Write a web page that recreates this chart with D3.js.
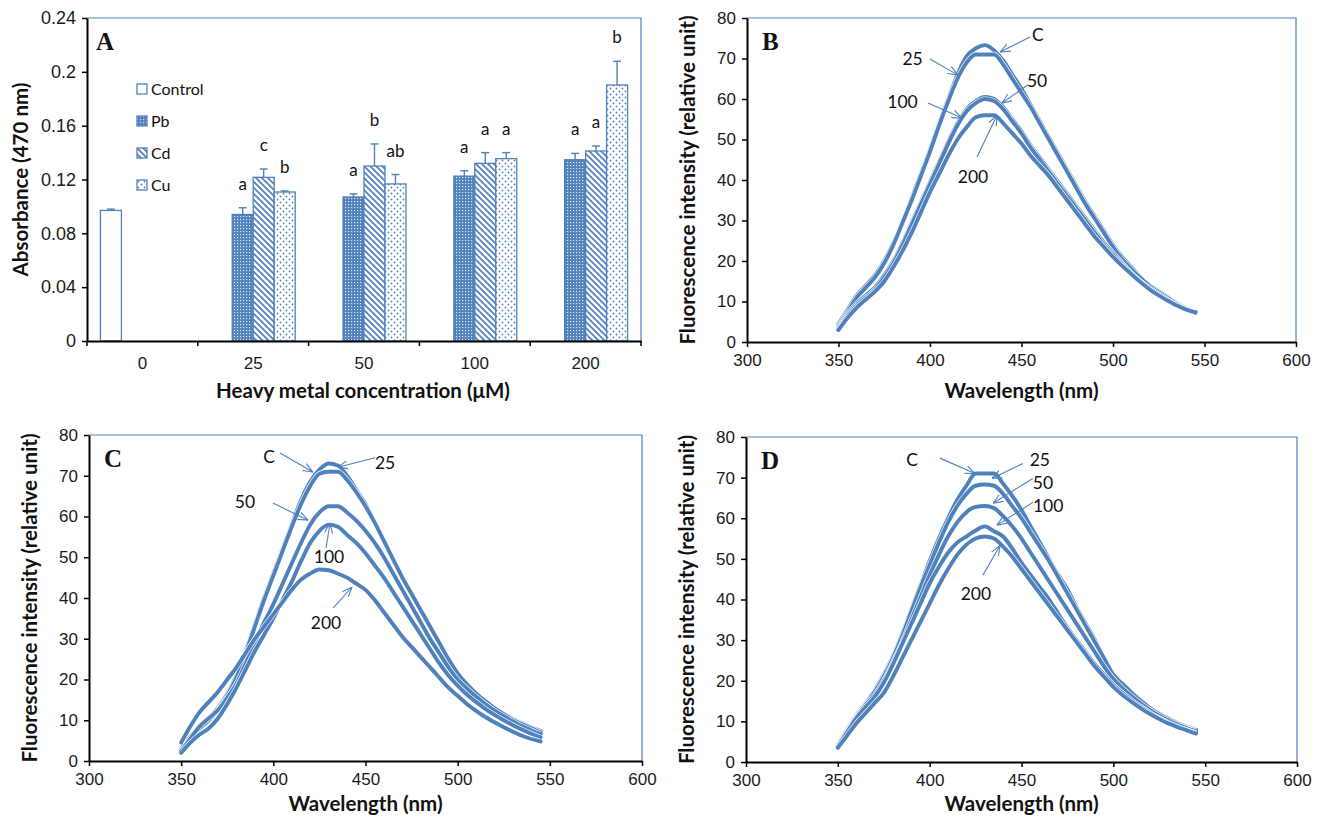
<!DOCTYPE html>
<html>
<head>
<meta charset="utf-8">
<script src="https://cdn.jsdelivr.net/npm/d3@7"></script>
<style>
  body { margin: 0; background: #fff; }
  svg { display: block; font-family: Lato, "Open Sans", sans-serif; }
  .tick text { font-size: 17px; fill: #1a1a1a; }
  .axis-title { font-size: 20.5px; font-weight: bold; fill: #111; }
  .panel-label { font-family: "Liberation Serif", serif; font-weight: bold; font-size: 25px; fill: #111; }
  .note { font-size: 17.5px; fill: #111; }
</style>
</head>
<body>
<svg id="chart" width="1320" height="819"></svg>
<script>
// ---- Panel A data (absorbance at 470 nm) ----
var concentrations = ["0", "25", "50", "100", "200"];
var metals = ["Control", "Pb", "Cd", "Cu"];
var controlMean = [0.097, null, null, null, null];
var controlErr  = [0.001, null, null, null, null];
var pbMean = [null, 0.094, 0.107, 0.1225, 0.1347];
var pbErr  = [null, 0.005, 0.0023, 0.004, 0.0047];
var cdMean = [null, 0.1216, 0.130, 0.132, 0.1412];
var cdErr  = [null, 0.0062, 0.0164, 0.008, 0.0037];
var cuMean = [null, 0.1107, 0.1167, 0.1355, 0.1902];
var cuErr  = [null, 0.0008, 0.007, 0.0045, 0.0176];
var pbLetters = [null, "a", "a", "a", "a"];
var cdLetters = [null, "c", "b", "a", "a"];
var cuLetters = [null, "b", "ab", "a", "b"];
var absTicks = [0, 0.04, 0.08, 0.12, 0.16, 0.2, 0.24];

// ---- Panels B-D data (fluorescence spectra) ----
var wavelengths = [350, 355, 360, 365, 370, 375, 380, 385, 390, 395,
                   400, 405, 410, 415, 420, 425, 430, 435, 440, 445,
                   450, 455, 460, 465, 470, 475, 480, 485, 490, 495,
                   500, 505, 510, 515, 520, 525, 530, 535, 540, 545];
var waveTicks = [300, 350, 400, 450, 500, 550, 600];
var fluoTicks = [0, 10, 20, 30, 40, 50, 60, 70, 80];

var bControl = [4.5, 8, 11.5, 14, 16.5, 20, 24.5, 29.5, 35.5, 41.5, 47.5, 54, 60, 66, 70.5, 72.5, 73.3, 72, 69.5, 66, 62.5, 58.5, 54.5, 50.5, 46.5, 42.5, 38.5, 34.5, 31, 27.5, 24, 21, 18.5, 16, 14, 12.5, 11, 9.5, 8.3, 7.5];
var b25 = [4, 7.5, 11, 13.5, 16, 19.5, 24, 29.5, 35, 41, 47, 53.5, 59.5, 65, 69, 71, 71, 71, 68.5, 65, 61.5, 58, 54, 50, 46, 42, 38, 34, 30.5, 27, 23.5, 20.5, 18, 15.8, 13.8, 12.2, 10.8, 9.4, 8.2, 7.4];
var b50 = [3.5, 7, 9.5, 11.5, 13.5, 16.5, 20, 24.5, 29.5, 34.5, 39.5, 44.5, 49.5, 54, 57.5, 59.5, 60.5, 60, 58, 55, 52, 48.5, 45.5, 42.5, 39.5, 36.5, 33.5, 30.5, 27.5, 24.5, 22, 19.5, 17, 15, 13.3, 11.8, 10.4, 9.2, 8.2, 7.4];
var b100 = [3, 6.5, 9, 11, 13, 16, 19.5, 24, 29, 34, 39, 44, 49, 53.5, 57, 59, 60, 59.5, 57.5, 54.5, 51.5, 48, 45, 42, 39, 36, 33, 30, 27, 24, 21.5, 19, 16.8, 14.8, 13, 11.5, 10.2, 9, 8, 7.2];
var b200 = [3, 6, 8.5, 10.5, 12.5, 15, 18.5, 22.5, 27, 32, 37, 41.5, 46, 50, 53, 55.5, 56, 56, 54, 51.5, 49, 46, 43.5, 41, 38, 35, 32, 29, 26, 23.5, 21, 18.8, 16.8, 14.8, 13, 11.5, 10.2, 9, 8, 7.3];

var cControl = [3, 6, 8.5, 10.5, 13, 16.5, 21, 27, 33.5, 40, 46, 52, 58, 64, 68.5, 71.5, 73, 72.5, 70, 66.5, 63, 58.5, 54, 49.5, 45, 41, 37, 33, 29, 24.5, 20.5, 18.3, 16.3, 14.5, 13, 11.6, 10.3, 9.2, 8.2, 7.4];
var c25 = [2.5, 5.5, 8, 10, 12.5, 16, 20.5, 26.5, 33, 39.5, 45.5, 51.5, 57.5, 63, 67.5, 70.5, 71, 71, 69, 66, 62.5, 58.5, 54, 49.5, 45, 41, 37, 33, 29, 25, 21.5, 18.8, 16.6, 14.7, 13, 11.5, 10.1, 9, 8, 7];
var c50 = [2.5, 5.5, 8.5, 10.5, 12.5, 15.5, 19, 24, 29, 34, 38.5, 43.5, 48.5, 53.5, 58, 61, 62.5, 62.5, 61, 59, 56.5, 53.5, 50, 46, 42, 38, 34, 30, 26.5, 23, 20, 17.8, 15.8, 14, 12.4, 11, 9.7, 8.5, 7.5, 6.6];
var c100 = [2, 4.5, 6.5, 8, 10.5, 14, 18, 22.5, 27, 31, 35, 39.5, 44, 49, 53.5, 56.5, 58, 57.5, 55.5, 53.5, 51, 48, 45, 41.5, 38, 34.5, 31, 27.5, 24, 21, 18.5, 16.3, 14.5, 12.8, 11.3, 10, 8.8, 7.7, 6.7, 5.8];
var c200 = [4.5, 8.5, 12, 14.5, 17, 20, 23, 26.5, 30, 33, 36, 39, 42, 44.5, 46, 47, 46.8, 46, 45, 43.5, 42, 39.5, 36.5, 33.5, 30.5, 28, 25.5, 23, 20.5, 18, 16, 14, 12.3, 10.8, 9.5, 8.3, 7.2, 6.2, 5.4, 4.8];

var dControl = [4.3, 8, 11.5, 14.5, 17.5, 21.5, 26, 31.5, 37.5, 43.5, 49.5, 55, 60, 64.5, 68, 71, 71, 71, 68.5, 65.5, 62, 58, 54, 50, 46, 42.5, 38, 34, 30, 25.5, 21.5, 19.3, 17.2, 15.2, 13.4, 12, 10.7, 9.6, 8.7, 8];
var d25 = [4, 7.8, 11.2, 14.2, 17.2, 21, 25.5, 31, 37, 43, 48.5, 54, 59, 63, 66, 68, 68.3, 68, 66, 63, 60, 56.5, 53, 49.5, 45.5, 41.5, 37.5, 33.5, 29.5, 25.5, 21.5, 19.2, 17, 15, 13.3, 11.8, 10.5, 9.4, 8.5, 7.8];
var d50 = [4, 7.5, 11, 14, 16.5, 20, 24.5, 29.5, 35, 40.5, 46, 51, 55.5, 59, 61.5, 62.8, 63, 62.5, 60.5, 58, 55, 51.5, 48, 44.5, 41, 37.5, 34, 30.5, 27, 23.5, 20.5, 18.2, 16.2, 14.4, 12.8, 11.4, 10.2, 9.2, 8.3, 7.6];
var d100 = [3.8, 7.3, 10.8, 13.5, 16, 19.5, 24, 29, 34, 39, 44, 48, 51.5, 54, 55.5, 57, 58, 56.8, 55.5, 52.5, 49, 46, 43, 40, 36.5, 33, 30, 27, 24, 21.5, 19, 17, 15.2, 13.6, 12.1, 10.8, 9.7, 8.7, 7.9, 7.2];
var d200 = [3.5, 6.5, 9.5, 12, 14.5, 17, 21, 25.5, 30, 34.5, 39, 43.5, 47.5, 51, 53.5, 55, 55.5, 55, 53, 50.5, 47.5, 44.5, 41.5, 38.5, 35.5, 32.5, 29.5, 26.5, 23.5, 21, 18.5, 16.5, 14.8, 13.2, 11.8, 10.6, 9.5, 8.6, 7.8, 7];

// curve labels: text centre, then the arrow from (x1,y1) to tip (x2,y2), all in data units
var bNotes = [
  {label: "C",   tx: 459,   ty: 75.8, x1: 454.6, y1: 75.3, x2: 438.3, y2: 71.6},
  {label: "25",  tx: 390.5, ty: 70,   x1: 400,   y1: 69.9, x2: 415.3, y2: 65.9},
  {label: "50",  tx: 458.5, ty: 64.4, x1: 453.6, y1: 63.5, x2: 439.3, y2: 59},
  {label: "100", tx: 385,   ty: 59.3, x1: 398.9, y1: 59,   x2: 417.5, y2: 55.3},
  {label: "200", tx: 423.5, ty: 40.7, x1: 425.7, y1: 45.7, x2: 436.6, y2: 56}
];
var cNotes = [
  {label: "C",   tx: 397.7, ty: 74.6, x1: 403.6, y1: 75.6, x2: 421.5, y2: 70.9},
  {label: "25",  tx: 460.6, ty: 73.1, x1: 455.2, y1: 74.4, x2: 435,   y2: 72.1},
  {label: "50",  tx: 384.6, ty: 63.6, x1: 399.8, y1: 63.3, x2: 418.8, y2: 59.1},
  {label: "100", tx: 430.2, ty: 50,   x1: 428.6, y1: 52.3, x2: 430.8, y2: 58.4},
  {label: "200", tx: 428.6, ty: 33.9, x1: 432.4, y1: 37.5, x2: 442.7, y2: 42.7}
];
var dNotes = [
  {label: "C",   tx: 390.4, ty: 74.3, x1: 405.6, y1: 74.8, x2: 424.7, y2: 71},
  {label: "25",  tx: 460,   ty: 74.3, x1: 450.8, y1: 73.5, x2: 433.9, y2: 69.8},
  {label: "50",  tx: 461.7, ty: 68.6, x1: 456.2, y1: 69.8, x2: 434.5, y2: 63.7},
  {label: "100", tx: 464.5, ty: 63,   x1: 456.2, y1: 63.9, x2: 436.6, y2: 58.3},
  {label: "200", tx: 425.2, ty: 41.5, x1: 429,   y1: 46,   x2: 438.3, y2: 53.3}
];

var blue = "#4f81bd";
var svg = d3.select("#chart");
var defs = svg.append("defs");

// fill patterns for the bars
var pPb = defs.append("pattern").attr("id", "pat-pb").attr("patternUnits", "userSpaceOnUse")
    .attr("width", 3).attr("height", 3);
pPb.append("rect").attr("width", 3).attr("height", 3).attr("fill", blue);
pPb.append("rect").attr("width", 1.2).attr("height", 1.2).attr("fill", "#dfe8f4");

var pCd = defs.append("pattern").attr("id", "pat-cd").attr("patternUnits", "userSpaceOnUse")
    .attr("width", 6).attr("height", 6);
pCd.append("rect").attr("width", 6).attr("height", 6).attr("fill", "#fff");
pCd.append("path").attr("d", "M0,0L6,6M-1,5L1,7M5,-1L7,1")
    .attr("stroke", blue).attr("stroke-width", 1.7);

var pCu = defs.append("pattern").attr("id", "pat-cu").attr("patternUnits", "userSpaceOnUse")
    .attr("width", 6).attr("height", 6);
pCu.append("rect").attr("width", 6).attr("height", 6).attr("fill", "#fff");
pCu.append("circle").attr("cx", 1.5).attr("cy", 1.5).attr("r", 0.9).attr("fill", blue);
pCu.append("circle").attr("cx", 4.5).attr("cy", 4.5).attr("r", 0.9).attr("fill", blue);

var fills = {Control: "#fff", Pb: "url(#pat-pb)", Cd: "url(#pat-cd)", Cu: "url(#pat-cu)"};

defs.append("marker").attr("id", "arrow")
    .attr("viewBox", "0 0 10 10").attr("refX", 10).attr("refY", 5)
    .attr("markerWidth", 10).attr("markerHeight", 10)
    .attr("markerUnits", "userSpaceOnUse").attr("orient", "auto")
  .append("path").attr("d", "M0,1L10,5L0,9")
    .attr("fill", "none").attr("stroke", blue).attr("stroke-width", 1.1);

function styleAxis(g) {
  g.select(".domain").attr("stroke", "#000").attr("stroke-width", 2);
  g.selectAll(".tick line").attr("stroke", "#000").attr("stroke-width", 1.5);
}

// ================= Panel A =================
var aBox = {left: 87, top: 18, right: 641, bottom: 341};
var x0 = d3.scaleBand().domain(concentrations).range([aBox.left, aBox.right]);
var x1 = d3.scaleBand().domain(metals).range([0, x0.bandwidth()]).paddingOuter(0.64);
var yA = d3.scaleLinear().domain([0, 0.24]).range([aBox.bottom, aBox.top]);

var gA = svg.append("g");
gA.append("path")
    .attr("d", "M" + aBox.left + "," + aBox.top + "H" + aBox.right + "V" + aBox.bottom)
    .attr("fill", "none").attr("stroke", blue).attr("stroke-width", 1.2);

var barSeries = [
  {name: "Control", mean: controlMean, err: controlErr, letters: null},
  {name: "Pb", mean: pbMean, err: pbErr, letters: pbLetters},
  {name: "Cd", mean: cdMean, err: cdErr, letters: cdLetters},
  {name: "Cu", mean: cuMean, err: cuErr, letters: cuLetters}
];

barSeries.forEach(function(s) {
  var rows = concentrations.map(function(c, i) {
    return {conc: c, v: s.mean[i], e: s.err[i], l: s.letters ? s.letters[i] : null};
  }).filter(function(d) { return d.v != null; });

  var grp = gA.append("g");
  grp.selectAll("rect").data(rows).join("rect")
      .attr("x", function(d) { return x0(d.conc) + x1(s.name); })
      .attr("y", function(d) { return yA(d.v); })
      .attr("width", x1.bandwidth())
      .attr("height", function(d) { return yA(0) - yA(d.v); })
      .attr("fill", fills[s.name])
      .attr("stroke", blue).attr("stroke-width", 1.3);

  // upper error bars
  var cx = function(d) { return x0(d.conc) + x1(s.name) + x1.bandwidth() / 2; };
  grp.selectAll("line.err").data(rows).join("line").attr("class", "err")
      .attr("x1", cx).attr("x2", cx)
      .attr("y1", function(d) { return yA(d.v); })
      .attr("y2", function(d) { return yA(d.v + d.e); })
      .attr("stroke", blue).attr("stroke-width", 1.4);
  grp.selectAll("line.cap").data(rows).join("line").attr("class", "cap")
      .attr("x1", function(d) { return cx(d) - 4; })
      .attr("x2", function(d) { return cx(d) + 4; })
      .attr("y1", function(d) { return yA(d.v + d.e); })
      .attr("y2", function(d) { return yA(d.v + d.e); })
      .attr("stroke", blue).attr("stroke-width", 1.4);

  grp.selectAll("text").data(rows.filter(function(d) { return d.l; })).join("text")
      .attr("x", cx)
      .attr("y", function(d) { return yA(d.v + d.e) - 18; })
      .attr("text-anchor", "middle")
      .style("font-size", "17px").style("fill", "#111")
      .text(function(d) { return d.l; });
});

// y axis
var yAxisA = gA.append("g")
    .attr("transform", "translate(" + aBox.left + ",0)")
    .call(d3.axisLeft(yA).tickValues(absTicks).tickSize(5).tickSizeOuter(0).tickPadding(6)
      .tickFormat(function(d) { return d === 0 ? "0" : d3.format(".2~f")(d); }));
styleAxis(yAxisA);
yAxisA.selectAll(".tick text").style("font-size", "18px");

// x axis with ticks on category boundaries
var xAxisA = gA.append("g")
    .attr("transform", "translate(0," + aBox.bottom + ")")
    .call(d3.axisBottom(x0).tickSize(0).tickSizeOuter(0).tickPadding(16));
styleAxis(xAxisA);
var bounds = concentrations.map(function(c) { return x0(c); }).concat([aBox.right]);
gA.selectAll("line.bound").data(bounds).join("line").attr("class", "bound")
    .attr("x1", function(d) { return d; }).attr("x2", function(d) { return d; })
    .attr("y1", aBox.bottom).attr("y2", aBox.bottom + 5)
    .attr("stroke", "#000").attr("stroke-width", 1.5);

// legend
var legend = gA.append("g").attr("transform", "translate(137,84)");
metals.forEach(function(m, i) {
  var row = legend.append("g").attr("transform", "translate(0," + (i * 32) + ")");
  row.append("rect").attr("width", 10).attr("height", 10)
      .attr("fill", fills[m]).attr("stroke", blue).attr("stroke-width", 1.3);
  row.append("text").attr("x", 14).attr("y", 10.5)
      .style("font-size", "16px").style("fill", "#111").text(m);
});

gA.append("text").attr("class", "panel-label").attr("x", 96).attr("y", 50).text("A");
gA.append("text").attr("class", "axis-title")
    .attr("transform", "translate(28," + ((aBox.top + aBox.bottom) / 2) + ") rotate(-90)")
    .attr("text-anchor", "middle").text("Absorbance (470 nm)");
gA.append("text").attr("class", "axis-title")
    .attr("x", (aBox.left + aBox.right) / 2 - 1).attr("y", 398)
    .attr("text-anchor", "middle").text("Heavy metal concentration (\u03bcM)");

// ================= Panels B-D =================
function drawSpectra(box, series, notes, letter, titleY) {
  var x = d3.scaleLinear().domain([300, 600]).range([box.left, box.right]);
  var y = d3.scaleLinear().domain([0, 80]).range([box.bottom, box.top]);
  var g = svg.append("g");

  g.append("path")
      .attr("d", "M" + box.left + "," + box.top + "H" + box.right + "V" + box.bottom)
      .attr("fill", "none").attr("stroke", blue).attr("stroke-width", 1.2);

  var line = d3.line()
      .x(function(d, i) { return x(wavelengths[i]); })
      .y(function(d) { return y(d); })
      .curve(d3.curveMonotoneX);

  series.forEach(function(s) {
    g.append("path").attr("d", line(s)).attr("fill", "none")
        .attr("stroke", "#fff").attr("stroke-width", 5.2).attr("stroke-linejoin", "round");
    g.append("path").attr("d", line(s)).attr("fill", "none")
        .attr("stroke", blue).attr("stroke-width", 3.9)
        .attr("stroke-linejoin", "round").attr("stroke-linecap", "round");
  });

  var xAx = g.append("g").attr("transform", "translate(0," + box.bottom + ")")
      .call(d3.axisBottom(x).tickValues(waveTicks).tickSize(5).tickSizeOuter(0).tickPadding(7));
  styleAxis(xAx);
  var yAx = g.append("g").attr("transform", "translate(" + box.left + ",0)")
      .call(d3.axisLeft(y).tickValues(fluoTicks).tickSize(5).tickSizeOuter(0).tickPadding(6));
  styleAxis(yAx);

  notes.forEach(function(n) {
    g.append("line")
        .attr("x1", x(n.x1)).attr("y1", y(n.y1))
        .attr("x2", x(n.x2)).attr("y2", y(n.y2))
        .attr("stroke", blue).attr("stroke-width", 1.1)
        .attr("marker-end", "url(#arrow)");
    g.append("text").attr("class", "note")
        .attr("x", x(n.tx)).attr("y", y(n.ty)).attr("dy", "0.35em")
        .attr("text-anchor", "middle").text(n.label);
  });

  g.append("text").attr("class", "panel-label")
      .attr("x", box.left + 15).attr("y", box.top + 32).text(letter);
  g.append("text").attr("class", "axis-title")
      .attr("transform", "translate(" + (box.left - 52) + "," + ((box.top + box.bottom) / 2) + ") rotate(-90)")
      .attr("text-anchor", "middle").text("Fluorescence intensity (relative unit)");
  g.append("text").attr("class", "axis-title")
      .attr("x", (box.left + box.right) / 2).attr("y", titleY)
      .attr("text-anchor", "middle").text("Wavelength (nm)");
}

drawSpectra({left: 747, top: 18, right: 1296, bottom: 342},
            [bControl, b25, b50, b100, b200], bNotes, "B", 398);
drawSpectra({left: 89, top: 435, right: 642, bottom: 761},
            [cControl, c25, c50, c100, c200], cNotes, "C", 811);
drawSpectra({left: 746, top: 437, right: 1297, bottom: 762},
            [dControl, d25, d50, d100, d200], dNotes, "D", 811);
</script>
</body>
</html>
